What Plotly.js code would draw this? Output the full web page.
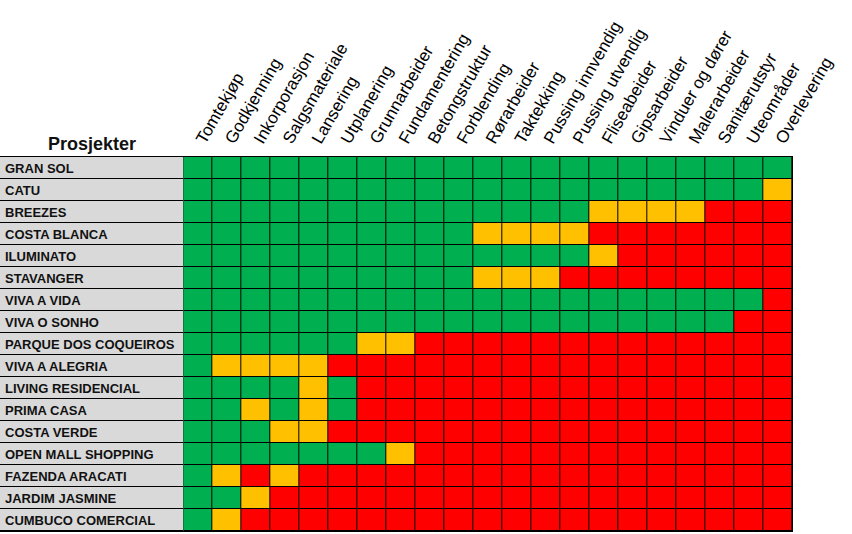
<!DOCTYPE html>
<html>
<head>
<meta charset="utf-8">
<script src="https://cdn.plot.ly/plotly-3.0.1.min.js"></script>
<style>html,body{margin:0;padding:0;background:#fff;}#chart{width:852px;height:534px;}</style>
</head>
<body>
<div id="chart"></div>
<script>
const projects = ["GRAN SOL","CATU","BREEZES","COSTA BLANCA","ILUMINATO","STAVANGER","VIVA A VIDA","VIVA O SONHO","PARQUE DOS COQUEIROS","VIVA A ALEGRIA","LIVING RESIDENCIAL","PRIMA CASA","COSTA VERDE","OPEN MALL SHOPPING","FAZENDA ARACATI","JARDIM JASMINE","CUMBUCO COMERCIAL"];
const tasks = ["Tomtekjøp","Godkjenning","Inkorporasjon","Salgsmateriale","Lansering","Utplanering","Grunnarbeider","Fundamentering","Betongstruktur","Forblending","Rørarbeider","Taktekking","Pussing innvendig","Pussing utvendig","Fliseabeider","Gipsarbeider","Vinduer og dører","Malerarbeider","Sanitærutstyr","Uteområder","Overlevering"];
// 0 = green (ferdig), 1 = yellow (pågår), 2 = red (ikke startet)
const status = [
  [0,0,0,0,0,0,0,0,0,0,0,0,0,0,0,0,0,0,0,0,0],
  [0,0,0,0,0,0,0,0,0,0,0,0,0,0,0,0,0,0,0,0,1],
  [0,0,0,0,0,0,0,0,0,0,0,0,0,0,1,1,1,1,2,2,2],
  [0,0,0,0,0,0,0,0,0,0,1,1,1,1,2,2,2,2,2,2,2],
  [0,0,0,0,0,0,0,0,0,0,0,0,0,0,1,2,2,2,2,2,2],
  [0,0,0,0,0,0,0,0,0,0,1,1,1,2,2,2,2,2,2,2,2],
  [0,0,0,0,0,0,0,0,0,0,0,0,0,0,0,0,0,0,0,0,2],
  [0,0,0,0,0,0,0,0,0,0,0,0,0,0,0,0,0,0,0,2,2],
  [0,0,0,0,0,0,1,1,2,2,2,2,2,2,2,2,2,2,2,2,2],
  [0,1,1,1,1,2,2,2,2,2,2,2,2,2,2,2,2,2,2,2,2],
  [0,0,0,0,1,0,2,2,2,2,2,2,2,2,2,2,2,2,2,2,2],
  [0,0,1,0,1,0,2,2,2,2,2,2,2,2,2,2,2,2,2,2,2],
  [0,0,0,1,1,2,2,2,2,2,2,2,2,2,2,2,2,2,2,2,2],
  [0,0,0,0,0,0,0,1,2,2,2,2,2,2,2,2,2,2,2,2,2],
  [0,1,2,1,2,2,2,2,2,2,2,2,2,2,2,2,2,2,2,2,2],
  [0,0,1,2,2,2,2,2,2,2,2,2,2,2,2,2,2,2,2,2,2],
  [0,1,2,2,2,2,2,2,2,2,2,2,2,2,2,2,2,2,2,2,2]
];
const headerLabel = "Prosjekter";

const split = 183.3 / 792;

const traces = [
  {
    type: "heatmap",
    x: ["label"],
    y: projects,
    z: projects.map(() => [0]),
    xaxis: "x2",
    yaxis: "y",
    zmin: 0, zmax: 1,
    colorscale: [[0, "#D9D9D9"], [1, "#D9D9D9"]],
    showscale: false,
    ygap: 1,
    hoverinfo: "skip"
  },
  {
    type: "heatmap",
    x: tasks,
    y: projects,
    z: status,
    xaxis: "x",
    yaxis: "y",
    zmin: 0, zmax: 2,
    colorscale: [[0, "#00B050"], [0.5, "#FFC000"], [1, "#FF0000"]],
    showscale: false,
    xgap: 1,
    ygap: 1,
    hoverinfo: "skip"
  }
];

const annotations = projects.map(p => ({
  xref: "x2 domain", x: 0, xanchor: "left", xshift: 3,
  yref: "y", y: p, yanchor: "middle",
  text: p, showarrow: false,
  font: {family: "Liberation Sans, Arial, sans-serif", size: 13, color: "#111111", weight: 700}
}));
annotations.push({
  xref: "x2 domain", x: 0.5, xanchor: "center",
  yref: "paper", y: 1, yanchor: "bottom", yshift: 1,
  text: "<b>" + headerLabel + "</b>", showarrow: false,
  font: {family: "Liberation Sans, Arial, sans-serif", size: 18, color: "#111111"}
});

const layout = {
  width: 852, height: 534,
  margin: {l: 0, r: 60, t: 157, b: 3, pad: 0},
  paper_bgcolor: "#ffffff",
  plot_bgcolor: "#000000",
  showlegend: false,
  xaxis: {
    domain: [split, 1],
    side: "top",
    type: "category",
    tickangle: -60,
    ticks: "",
    showgrid: false, zeroline: false,
    showline: true, mirror: true, linecolor: "#000000", linewidth: 1,
    tickfont: {family: "Liberation Sans, Arial, sans-serif", size: 17, color: "#000000"},
    fixedrange: true
  },
  xaxis2: {
    domain: [0, split],
    anchor: "y",
    showticklabels: false, ticks: "",
    showgrid: false, zeroline: false,
    showline: true, mirror: true, linecolor: "#000000", linewidth: 1,
    fixedrange: true
  },
  yaxis: {
    type: "category",
    autorange: "reversed",
    anchor: "x",
    showticklabels: false, ticks: "",
    showgrid: false, zeroline: false,
    showline: true, mirror: true, linecolor: "#000000", linewidth: 1,
    fixedrange: true
  },
  annotations: annotations
};

Plotly.newPlot("chart", traces, layout, {displayModeBar: false, staticPlot: true});
</script>
</body>
</html>
